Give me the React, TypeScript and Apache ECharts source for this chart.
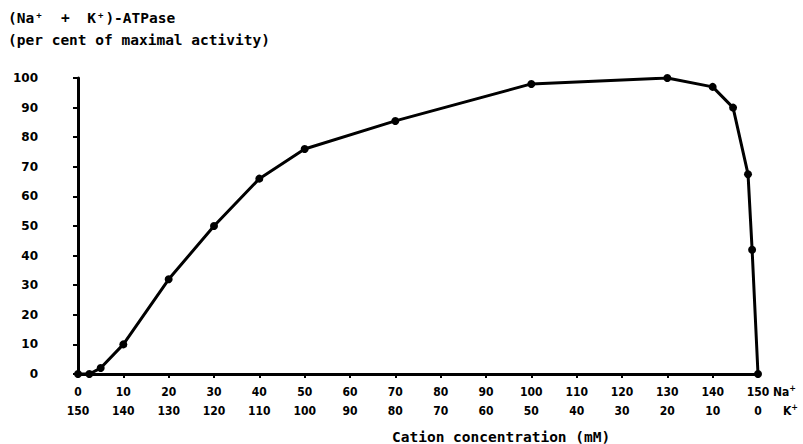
import React, { useEffect, useRef } from "react";
import * as echarts from "echarts";

const naConc = [0, 2.5, 5, 10, 20, 30, 40, 50, 70, 100, 130, 140, 144.5, 147.8, 148.7, 150];
const activity = [0, 0, 2, 10, 32, 50, 66, 76, 85.5, 98, 100, 97, 90, 67.5, 42, 0];
const totalCation = 150;
const titleLine1 = "(Na";
const titleLine2 = "(per cent of maximal activity)";
const xAxisTitle = "Cation concentration (mM)";

const MONO = "'DejaVu Sans Mono', monospace";

export default function App() {
  const ref = useRef<HTMLDivElement>(null);
  useEffect(() => {
    if (!ref.current) return;
    const chart = echarts.init(ref.current, undefined, { renderer: "svg" });
    const data = naConc.map((x, i) => [x, activity[i]]);
    chart.setOption({
      animation: false,
      backgroundColor: "#ffffff",
      grid: { left: 78, right: 45, top: 78, bottom: 70, containLabel: false },
      xAxis: {
        type: "value",
        min: 0,
        max: 150,
        interval: 10,
        axisLine: { show: true, lineStyle: { color: "#000", width: 3 } },
        axisTick: { show: true, length: 4, lineStyle: { color: "#000", width: 2 } },
        splitLine: { show: false },
        axisLabel: {
          margin: 8,
          color: "#000",
          fontFamily: "'DejaVu Sans Condensed', 'DejaVu Sans', sans-serif",
          fontWeight: "bold",
          fontSize: 12,
          lineHeight: 19,
          formatter: (v: number) => `${v}\n${totalCation - v}`,
        },
      },
      yAxis: {
        type: "value",
        min: 0,
        max: 100,
        interval: 10,
        offset: 16,
        axisLine: { show: true, lineStyle: { color: "#000", width: 3 } },
        axisTick: { show: true, length: 5, lineStyle: { color: "#000", width: 2 } },
        splitLine: { show: false },
        axisLabel: {
          margin: 24,
          color: "#000",
          fontFamily: "'DejaVu Sans', sans-serif",
          fontWeight: "bold",
          fontSize: 12,
        },
      },
      series: [
        {
          type: "line",
          data,
          symbol: "circle",
          symbolSize: 8,
          itemStyle: { color: "#000" },
          lineStyle: { color: "#000", width: 3 },
        },
      ],
      graphic: [
        {
          type: "text",
          left: 8,
          top: 10,
          style: {
            text: `{n|${titleLine1}}{s|+}{n|  +  K}{s|+}{n|)-ATPase}`,
            rich: {
              n: { fontFamily: MONO, fontWeight: "bold", fontSize: 14.5, fill: "#000" },
              s: { fontFamily: MONO, fontWeight: "bold", fontSize: 9, fill: "#000", verticalAlign: "top", padding: [0, 2, 6, 2] },
            },
          },
        },
        {
          type: "text",
          left: 8,
          top: 32,
          style: { text: titleLine2, font: `bold 14.5px ${MONO}`, fill: "#000" },
        },
        {
          type: "text",
          left: 392,
          top: 429,
          style: { text: xAxisTitle, font: `bold 14.5px ${MONO}`, fill: "#000" },
        },
        {
          type: "text",
          left: 773,
          top: 384,
          style: {
            text: "{n|Na}{s|+}",
            rich: {
              n: { fontFamily: "'DejaVu Sans Condensed', sans-serif", fontWeight: "bold", fontSize: 12, fill: "#000" },
              s: { fontFamily: "'DejaVu Sans', sans-serif", fontWeight: "bold", fontSize: 8, fill: "#000", padding: [0, 0, 8, 0] },
            },
          },
        },
        {
          type: "text",
          left: 783,
          top: 403,
          style: {
            text: "{n|K}{s|+}",
            rich: {
              n: { fontFamily: "'DejaVu Sans Condensed', sans-serif", fontWeight: "bold", fontSize: 12, fill: "#000" },
              s: { fontFamily: "'DejaVu Sans', sans-serif", fontWeight: "bold", fontSize: 8, fill: "#000", padding: [0, 0, 8, 0] },
            },
          },
        },
      ],
    });
    return () => chart.dispose();
  }, []);
  return <div ref={ref} style={{ width: 803, height: 444, position: "absolute", left: 0, top: 0 }} />;
}
